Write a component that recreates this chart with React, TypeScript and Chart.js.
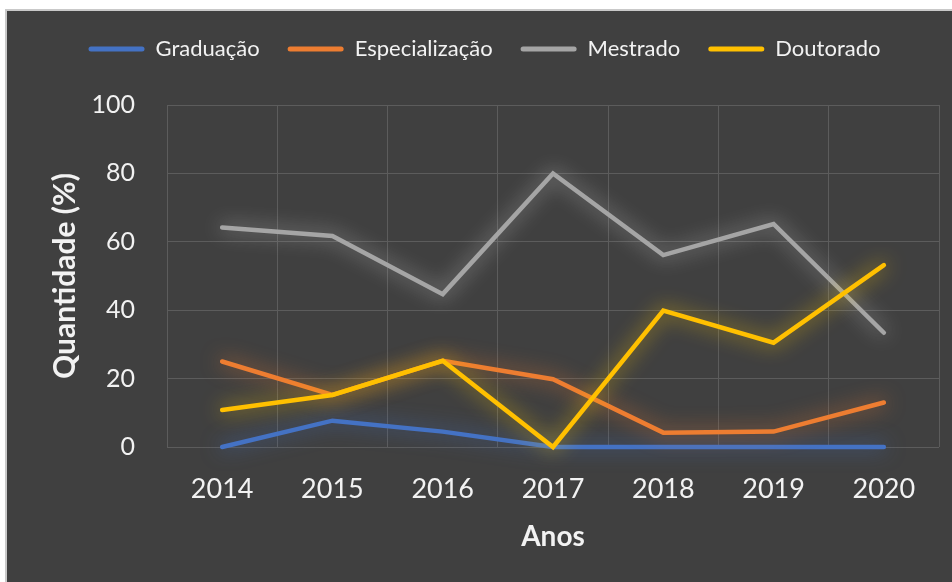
import React, { useEffect, useRef } from "react";
import { Chart, registerables } from "chart.js";

Chart.register(...registerables);

const years = ["2014", "2015", "2016", "2017", "2018", "2019", "2020"];
const seriesNames = ["Graduação", "Especialização", "Mestrado", "Doutorado"];
const graduacao = [0, 7.7, 4.5, 0, 0, 0, 0];
const especializacao = [25, 15.2, 25.2, 19.8, 4.2, 4.5, 13];
const mestrado = [64.2, 61.7, 44.7, 80, 56.1, 65.2, 33.4];
const doutorado = [10.8, 15.2, 25.2, 0, 39.9, 30.5, 53.2];
const yTicks = [0, 20, 40, 60, 80, 100];

const colors = ["#4472C4", "#ED7D31", "#A5A5A5", "#FFC000"];
const glows = [
  "rgba(68,114,196,0.8)",
  "rgba(237,125,49,0.8)",
  "rgba(225,225,225,0.65)",
  "rgba(255,205,0,0.8)",
];

const FONT = "Lato, 'Open Sans', sans-serif";
const TEXT = "#f2f2f2";
const GRID = "#5c5c5c";

const bgPlugin = {
  id: "bgPlugin",
  beforeDraw(chart: any) {
    const { ctx, width, height } = chart;
    ctx.save();
    ctx.fillStyle = "#ffffff";
    ctx.fillRect(0, 0, width, height);
    ctx.fillStyle = "#c9c9c9";
    ctx.fillRect(5, 9, width - 5, height - 9);
    ctx.fillStyle = "#404040";
    ctx.fillRect(7, 11, width - 7, height - 11);
    ctx.restore();
  },
};

const glowPlugin = {
  id: "glowPlugin",
  beforeDatasetDraw(chart: any, args: any) {
    const ctx = chart.ctx;
    ctx.save();
    ctx.shadowColor = glows[args.index];
    ctx.shadowBlur = 20;
  },
  afterDatasetDraw(chart: any) {
    chart.ctx.restore();
  },
};

export default function App() {
  const ref = useRef<HTMLCanvasElement | null>(null);

  useEffect(() => {
    if (!ref.current) return;
    const values = [graduacao, especializacao, mestrado, doutorado];
    const chart = new Chart(ref.current, {
      type: "line",
      data: {
        labels: years,
        datasets: values.map((v, i) => ({
          label: seriesNames[i],
          data: v,
          borderColor: colors[i],
          backgroundColor: colors[i],
          borderWidth: 4.5,
          pointRadius: 0,
          pointHoverRadius: 0,
          tension: 0,
          borderCapStyle: "round" as const,
          clip: false as any,
          order: 3 - i,
        })),
      },
      options: {
        responsive: false,
        animation: false,
        events: [],
        layout: { padding: { top: 10, left: 30, right: 13, bottom: 0 } },
        plugins: {
          tooltip: { enabled: false },
          legend: {
            position: "top",
            weight: 3000,
            labels: {
              color: TEXT,
              font: { family: FONT, size: 22 },
              boxWidth: 56,
              boxHeight: 5,
              padding: 28,
              useBorderRadius: true,
              borderRadius: 2.5,
              sort: (a: any, b: any) => a.datasetIndex - b.datasetIndex,
              generateLabels: (c: any) =>
                Chart.defaults.plugins.legend.labels
                  .generateLabels(c)
                  .map((l: any) => ({
                    ...l,
                    fillStyle: colors[l.datasetIndex],
                    strokeStyle: "rgba(0,0,0,0)",
                    lineWidth: 0,
                  })),
            },
          } as any,
          title: {
            display: true,
            position: "top",
            weight: 2000,
            text: " ",
            font: { size: 10 },
            padding: { top: 0, bottom: 23 },
          } as any,
        },
        scales: {
          x: {
            type: "category",
            offset: true,
            grid: { color: GRID, offset: true, drawTicks: false, lineWidth: 1 },
            border: { display: false },
            ticks: {
              color: TEXT,
              font: { family: FONT, size: 27 },
              padding: 26,
              maxRotation: 0,
            },
            title: {
              display: true,
              text: "Anos",
              color: TEXT,
              font: { family: FONT, size: 28, weight: "bold" },
              padding: { top: 0, bottom: 28 },
            },
            afterFit: (s: any) => {
              s.height = 135;
            },
          },
          y: {
            min: 0,
            max: 100,
            afterBuildTicks: (s: any) => {
              s.ticks = yTicks.map((v) => ({ value: v }));
            },
            grid: { color: GRID, drawTicks: false, lineWidth: 1 },
            border: { display: false },
            ticks: {
              color: TEXT,
              font: { family: FONT, size: 25 },
              padding: 32,
            },
            title: {
              display: true,
              text: "Quantidade (%)",
              color: TEXT,
              font: { family: FONT, size: 30, weight: "bold" },
              padding: { top: 17, bottom: 0 },
            },
            afterFit: (s: any) => {
              s.width = 137;
            },
          },
        },
      },
      plugins: [bgPlugin, glowPlugin],
    });
    return () => chart.destroy();
  }, []);

  return (
    <div style={{ position: "fixed", left: 0, top: 0, width: 952, height: 582 }}>
      <canvas ref={ref} width={952} height={582} style={{ width: 952, height: 582, display: "block" }} />
    </div>
  );
}
